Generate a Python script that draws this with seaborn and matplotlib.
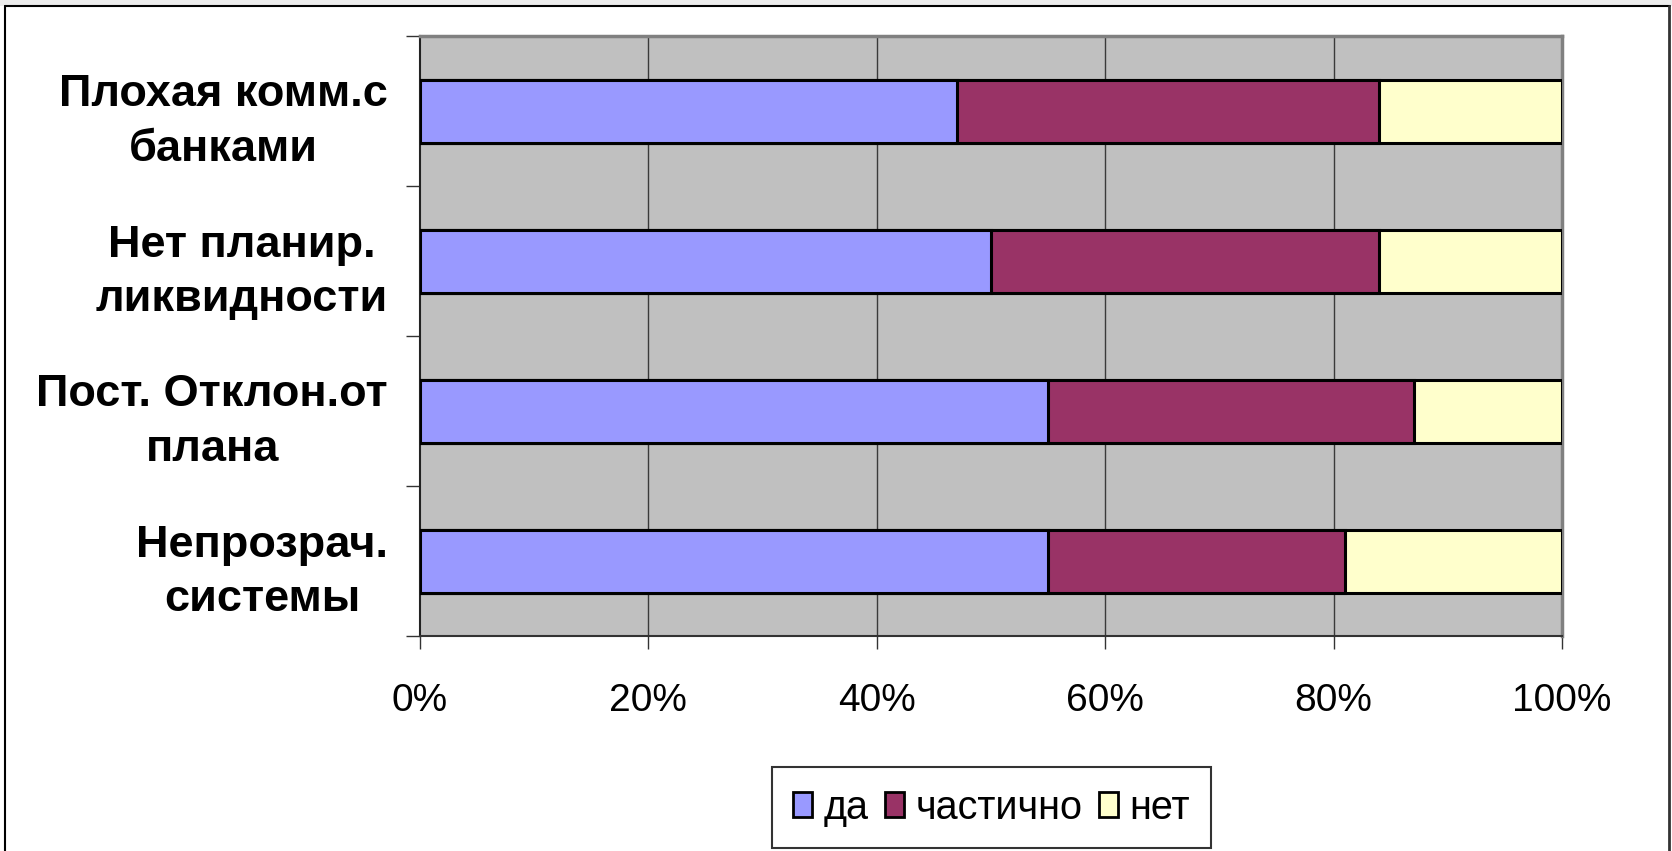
import matplotlib
matplotlib.use("Agg")
import matplotlib.pyplot as plt
import seaborn as sns
import pandas as pd
import numpy as np
from matplotlib.patches import Patch, Rectangle
from matplotlib.lines import Line2D

categories = ["Плохая комм.с\nбанками", "Нет планир.\nликвидности",
              "Пост. Отклон.от\nплана", "Непрозрач.\nсистемы"]
series_names = ["да", "частично", "нет"]
da = [47, 50, 55, 55]
chastichno = [37, 34, 32, 26]
net = [16, 16, 13, 19]
tick_values = [0, 20, 40, 60, 80, 100]
tick_labels = ["0%", "20%", "40%", "60%", "80%", "100%"]
colors = ["#9999FF", "#993366", "#FFFFCC"]

sns.set_style("white")
plt.rcParams["font.family"] = ["Liberation Sans", "DejaVu Sans"]
plt.rcParams["text.color"] = "black"
plt.rcParams["xtick.labelcolor"] = "black"
plt.rcParams["ytick.labelcolor"] = "black"

df = pd.DataFrame({"cat": categories, "да": da, "частично": chastichno, "нет": net})
cum = df[series_names].cumsum(axis=1)

fig = plt.figure(figsize=(16.72, 8.51), dpi=100)
fig.patch.set_facecolor("white")
ax = fig.add_axes([420/1672, 1-636/851, (1562-420)/1672, 600/851])
ax.set_facecolor("#C0C0C0")

# draw stacked bars: widest (cumulative) first
for name, col in zip(reversed(series_names), reversed(colors)):
    sns.barplot(x=cum[name], y=df["cat"], orient="h", color=col, width=0.42,
                edgecolor="black", linewidth=2.2, saturation=1, ax=ax, zorder=3)

ax.set_xlim(0, 100)
ax.set_ylim(3.5, -0.5)
ax.set_xlabel("")
ax.set_ylabel("")

for v in tick_values[1:-1]:
    ax.axvline(v, color="#3a3a3a", lw=1.0, zorder=1)

ax.set_xticks(tick_values, labels=tick_labels)
ax.tick_params(axis="x", which="major", length=9.5, width=1.0, color="#333333",
               pad=24, labelsize=28, direction="out", bottom=True, labelcolor="black")
ax.set_yticks([-0.5, 0.5, 1.5, 2.5, 3.5], labels=[])
ax.set_yticks([0, 1, 2, 3], labels=categories, minor=True)
ax.tick_params(axis="y", which="major", length=10, width=1.0, color="#333333",
               direction="out", left=True)
ax.tick_params(axis="y", which="minor", length=0, pad=23, labelsize=32.5, labelcolor="black")
for t in ax.get_yticklabels(minor=True):
    t.set_fontweight("bold")
    t.set_multialignment("center")
    t.set_linespacing(1.42)
    t.set_horizontalalignment("right")

for s in ["top", "right"]:
    ax.spines[s].set_visible(True)
    ax.spines[s].set_color("#808080")
    ax.spines[s].set_linewidth(2.5)
ax.spines["left"].set_color("#222222")
ax.spines["left"].set_linewidth(1.5)
ax.spines["bottom"].set_color("#333333")
ax.spines["bottom"].set_linewidth(1.5)

handles = [Patch(facecolor=c, edgecolor="black", linewidth=2) for c in colors]
leg = fig.legend(handles, series_names, loc="center", bbox_to_anchor=(0.593, 0.051),
                 ncol=3, fontsize=28.5, frameon=True, fancybox=False,
                 handlelength=0.48, handleheight=0.6, handletextpad=0.28,
                 columnspacing=0.42, borderpad=0.55, borderaxespad=0)
leg.get_frame().set_edgecolor("black")
leg.get_frame().set_linewidth(1.5)
for t in leg.get_texts():
    t.set_color("black")

# outer chart frame and top strip
fig.add_artist(Rectangle((0, 1-6/851), 1, 6/851, transform=fig.transFigure,
                         facecolor="#ECECEC", edgecolor="none"))
fig.add_artist(Line2D([5/1672, 1670/1672], [1-6/851, 1-6/851], transform=fig.transFigure,
                      color="black", lw=1.5))
fig.add_artist(Line2D([5/1672, 5/1672], [0, 1-6/851], transform=fig.transFigure,
                      color="black", lw=1.5))
fig.add_artist(Line2D([1669/1672, 1669/1672], [0, 1-6/851], transform=fig.transFigure,
                      color="#333333", lw=2))

fig.savefig("out.png", dpi=100)
